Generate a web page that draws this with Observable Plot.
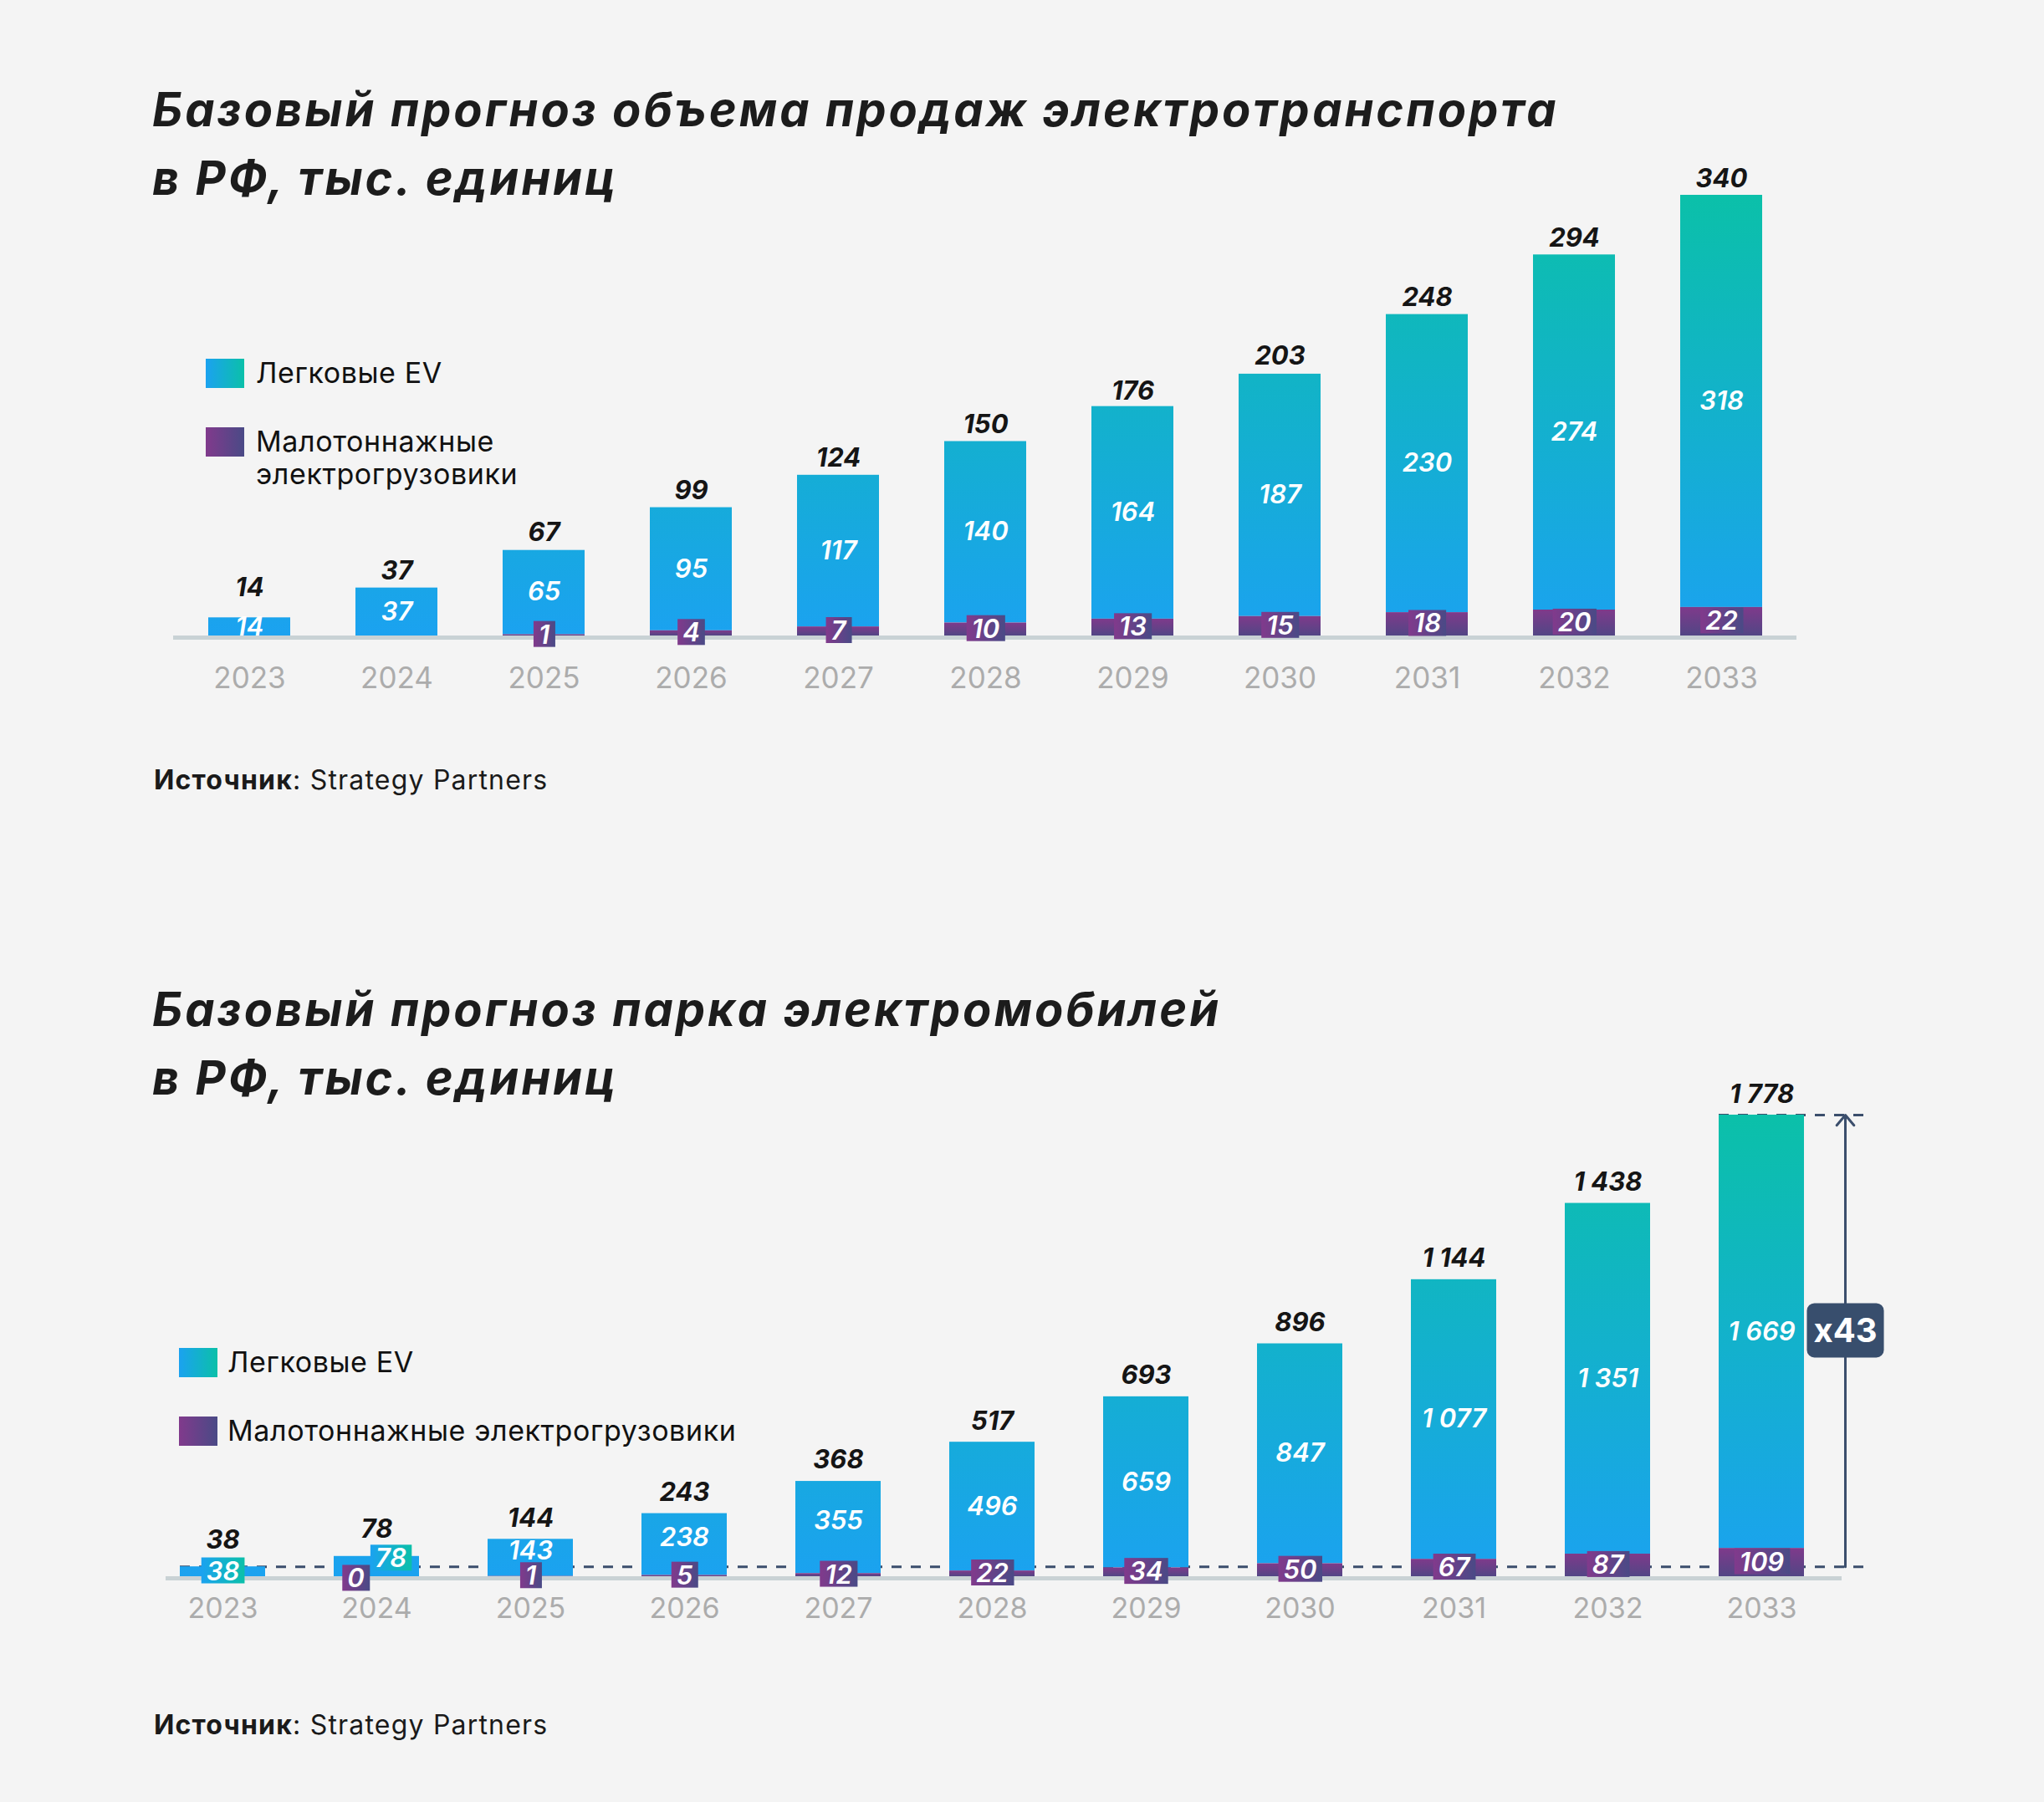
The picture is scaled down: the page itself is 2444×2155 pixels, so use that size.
<!DOCTYPE html>
<html>
<head>
<meta charset="utf-8">
<script src="https://cdn.jsdelivr.net/npm/d3@7"></script>
<script src="https://cdn.jsdelivr.net/npm/@observablehq/plot@0.6"></script>
<style>
  html, body { margin: 0; padding: 0; background: #f4f4f4; }
  #page { position: relative; width: 2444px; height: 2155px; background: #f4f4f4; overflow: hidden;
          font-family: Inter, "Noto Sans", "DejaVu Sans", sans-serif; color: #1a1a1a; }
  .abs { position: absolute; white-space: nowrap; line-height: 1; }
  .chart { position: absolute; left: 0; }
  .swatch { position: absolute; width: 46px; height: 35px; }
</style>
</head>
<body>
<div id="page"></div>
<script>
// ---------------- DATA ----------------
const years = ["2023", "2024", "2025", "2026", "2027", "2028", "2029", "2030", "2031", "2032", "2033"];

// Chart 1: sales forecast, thousand units
const salesTitle = ["Базовый прогноз объема продаж электротранспорта", "в РФ, тыс. единиц"];
const salesEV = [14, 37, 65, 95, 117, 140, 164, 187, 230, 274, 318];
const salesTrucks = [null, null, 1, 4, 7, 10, 13, 15, 18, 20, 22];
const salesTotals = [14, 37, 67, 99, 124, 150, 176, 203, 248, 294, 340];

// Chart 2: fleet forecast, thousand units
const fleetTitle = ["Базовый прогноз парка электромобилей", "в РФ, тыс. единиц"];
const fleetEV = [38, 78, 143, 238, 355, 496, 659, 847, 1077, 1351, 1669];
const fleetTrucks = [null, 0, 1, 5, 12, 22, 34, 50, 67, 87, 109];
const fleetTotals = [38, 78, 144, 243, 368, 517, 693, 896, 1144, 1438, 1778];
const fleetGrowthLabel = "x43";

const seriesNames = ["Легковые EV", "Малотоннажные электрогрузовики"];
const sourceLabel = "Источник";
const sourceName = "Strategy Partners";

// ---------------- STYLE ----------------
const FONT = 'Inter, "Noto Sans", "DejaVu Sans", sans-serif';
const C = {
  evBottom: "#1ba2f0", evTop: "#0bc0a9",
  truckTop: "#7f3a8b", truckBottom: "#524685",
  boxLeft: "#813a8c", boxRight: "#4a4a86",
  axis: "#c9d2d5", year: "#acacac", ink: "#151515", annot: "#3b4e6c"
};
const ru = d3.formatLocale({decimal: ",", thousands: "\u00a0", grouping: [3], currency: ["", ""]});
const fmt = ru.format(",d");

const page = document.getElementById("page");
const NS = "http://www.w3.org/2000/svg";
function svgEl(tag, attrs) {
  const e = document.createElementNS(NS, tag);
  for (const k in attrs) e.setAttribute(k, attrs[k]);
  return e;
}
function linGrad(id, attrs, stops) {
  const g = svgEl("linearGradient", Object.assign({id}, attrs));
  stops.forEach(([o, c]) => g.appendChild(svgEl("stop", {offset: o, "stop-color": c})));
  return g;
}
function addText(html, left, baseline, fs, css = {}) {
  const el = document.createElement("div");
  el.className = "abs";
  el.innerHTML = html;
  el.style.left = left + "px";
  el.style.top = (baseline - 0.864 * fs) + "px";
  el.style.fontSize = fs + "px";
  Object.assign(el.style, css);
  page.appendChild(el);
  return el;
}
function addSwatch(left, top, from, to) {
  const s = document.createElement("div");
  s.className = "swatch";
  s.style.left = left + "px";
  s.style.top = top + "px";
  s.style.background = `linear-gradient(to right, ${from}, ${to})`;
  page.appendChild(s);
}
function addBoxes(svg, tag, fill, padX, h, rx) {
  svg.querySelectorAll(`g[aria-description="${tag}"] text`).forEach(t => {
    const b = t.getBBox();
    const r = svgEl("rect", {
      x: b.x - padX, y: b.y + b.height / 2 - h / 2,
      width: b.width + 2 * padX, height: h, fill, rx
    });
    const tr = t.getAttribute("transform");
    if (tr) r.setAttribute("transform", tr);
    t.parentNode.insertBefore(r, t);
  });
}

function buildChart(cfg, sfx) {
  const rows = years.map((year, i) => ({year, ev: cfg.ev[i], truck: cfg.trucks[i], total: cfg.totals[i]}));
  const maxT = d3.max(cfg.totals);
  const plotH = cfg.height - cfg.marginTop - cfg.marginBottom;
  const k = plotH / maxT; // px per unit
  const base = d => d.truck ?? 0;
  const lift = d => (d.ev * k < 36 ? cfg.smallLift : 0);
  const boxed = d => d.ev < cfg.evBoxBelow;
  const shortSeg = d => d.ev * k < 120;
  const n = years.length;
  const plotW = 2444 - cfg.marginLeft - cfg.marginRight;
  const step = plotW / (n - cfg.pi + 2 * cfg.po);
  const halfBand = step * (1 - cfg.pi) / 2;
  const last = years[n - 1];

  const textBase = {fontFamily: FONT, fontStyle: "italic"};
  const evText = {x: "year", y: d => base(d) + d.ev / 2, text: d => fmt(d.ev),
    fontSize: cfg.labelFs, fontWeight: 600, fill: "white", ...textBase};
  const marks = [];

  if (cfg.annotate) {
    const dash = {stroke: C.annot, strokeWidth: 3, strokeDasharray: "12,11"};
    marks.push(Plot.ruleY([cfg.totals[0]], {x1: () => years[0], x2: () => last, insetRight: -(130 - halfBand), ...dash}));
    marks.push(Plot.ruleY([maxT], {x1: () => last, x2: () => last, insetRight: -(130 - halfBand), ...dash}));
  }

  marks.push(
    Plot.barY(rows, {x: "year", y1: base, y2: d => base(d) + d.ev, fill: `url(#ev${sfx})`}),
    Plot.barY(rows.filter(d => d.truck > 0), {x: "year", y1: 0, y2: "truck", fill: `url(#truck${sfx})`}),
    Plot.ruleY([0], {stroke: C.axis, strokeWidth: 5, dy: 2}),
    // totals
    Plot.text(rows, {x: "year", y: d => d.total + lift(d) / k, text: d => fmt(d.total),
      dy: -cfg.totalGap - 0.32 * cfg.totalFs, fontSize: cfg.totalFs, fontWeight: 700, fill: C.ink, ...textBase}),
    // EV labels (inside bars)
    Plot.text(rows.filter(d => !boxed(d) && !shortSeg(d)), evText),
    Plot.text(rows.filter(d => !boxed(d) && shortSeg(d)), {...evText, dy: cfg.shortShift}),
    // EV labels with box (small bars)
    Plot.text(rows.filter(d => boxed(d) && d.truck !== 0), {...evText, ariaDescription: "ev-box"}),
    Plot.text(rows.filter(d => boxed(d) && d.truck === 0), {...evText, dx: 17, dy: -9, ariaDescription: "ev-box"}),
    // truck labels with box
    Plot.text(rows.filter(d => d.truck != null && d.truck > 0), {x: "year", y: d => d.truck / 2, text: d => fmt(d.truck),
      fontSize: cfg.labelFs, fontWeight: 600, fill: "white", ariaDescription: "truck-box", ...textBase}),
    Plot.text(rows.filter(d => d.truck === 0), {x: "year", y: 0, text: d => fmt(d.truck),
      dx: -25, dy: 3, fontSize: cfg.labelFs, fontWeight: 600, fill: "white", ariaDescription: "truck-box", ...textBase}),
    // year labels
    Plot.text(rows, {x: "year", y: 0, text: "year", dy: cfg.yearBase - 0.32 * cfg.yearFs,
      fontSize: cfg.yearFs, fontWeight: 400, fill: C.year, fontFamily: FONT})
  );

  if (cfg.annotate) {
    marks.push(
      Plot.arrow([0], {x1: () => last, x2: () => last, y1: () => cfg.totals[0], y2: () => maxT, dx: 100,
        stroke: C.annot, strokeWidth: 3, headAngle: 80, headLength: 8}),
      Plot.text([fleetGrowthLabel], {x: () => last, y: () => (cfg.totals[0] + maxT) / 2, text: d => d,
        dx: 100, dy: -11, fontSize: 40, fontWeight: 700, fill: "white", fontFamily: FONT, ariaDescription: "growth"})
    );
  }

  const svg = Plot.plot({
    width: 2444, height: cfg.height,
    marginLeft: cfg.marginLeft, marginRight: cfg.marginRight,
    marginTop: cfg.marginTop, marginBottom: cfg.marginBottom,
    style: {background: "transparent", fontFamily: FONT, overflow: "visible"},
    x: {domain: years, paddingInner: cfg.pi, paddingOuter: cfg.po, align: cfg.align, axis: null},
    y: {domain: [0, maxT], axis: null},
    marks
  });
  svg.classList.add("chart");
  svg.style.top = cfg.top + "px";
  page.appendChild(svg);

  const y0 = cfg.height - cfg.marginBottom, yTop = cfg.marginTop;
  const defs = svgEl("defs", {});
  defs.appendChild(linGrad(`ev${sfx}`, {gradientUnits: "userSpaceOnUse", x1: 0, x2: 0, y1: y0, y2: yTop},
    [["0", C.evBottom], ["1", C.evTop]]));
  defs.appendChild(linGrad(`truck${sfx}`, {x1: 0, x2: 0, y1: 0, y2: 1},
    [["0", C.truckTop], ["1", C.truckBottom]]));
  defs.appendChild(linGrad(`boxP${sfx}`, {x1: 0, x2: 1, y1: 0, y2: 0},
    [["0", C.boxLeft], ["1", C.boxRight]]));
  defs.appendChild(linGrad(`boxE${sfx}`, {x1: 0, x2: 1, y1: 0, y2: 0},
    [["0", C.evBottom], ["1", C.evTop]]));
  svg.insertBefore(defs, svg.firstChild);

  addBoxes(svg, "truck-box", `url(#boxP${sfx})`, 6, cfg.boxH, 0);
  addBoxes(svg, "ev-box", `url(#boxE${sfx})`, 6, cfg.boxH, 0);
  addBoxes(svg, "growth", "#384e6d", 8, 65, 9);
  return svg;
}

const titleCss = {fontWeight: 700, fontStyle: "italic", letterSpacing: "3px", color: "#1c1c1c"};
const legendCss = {color: "#111", letterSpacing: "0.6px"};
const sourceCss = {color: "#1a1a1a", letterSpacing: "1.2px"};

// ---------------- CHART 1 ----------------
addText(salesTitle[0], 182, 151, 56, titleCss);
addText(salesTitle[1], 182, 233, 56, titleCss);
addSwatch(246, 429, C.evBottom, C.evTop);
addText(seriesNames[0], 306, 458, 34, legendCss);
addSwatch(246, 511, C.boxLeft, C.boxRight);
const legendWords = seriesNames[1].split(" ");
addText(legendWords[0], 306, 540, 34, legendCss);
addText(legendWords[1], 306, 579, 34, legendCss);
addText(`<b>${sourceLabel}</b>: ${sourceName}`, 184, 945, 32, sourceCss);

buildChart({
  ev: salesEV, trucks: salesTrucks, totals: salesTotals,
  top: 180, height: 700, marginLeft: 207, marginRight: 296, marginTop: 53, marginBottom: 120,
  pi: 0.445, po: 0.221, align: 0.5,
  yearFs: 35, yearBase: 62, totalGap: 10, totalFs: 31, labelFs: 31, boxH: 31, smallLift: 16, shortShift: 0,
  evBoxBelow: 0, annotate: false
}, "1");

// ---------------- CHART 2 ----------------
addText(fleetTitle[0], 182, 1227, 56, titleCss);
addText(fleetTitle[1], 182, 1309, 56, titleCss);
addSwatch(214, 1612, C.evBottom, C.evTop);
addText(seriesNames[0], 272, 1641, 34, legendCss);
addSwatch(214, 1694, C.boxLeft, C.boxRight);
addText(seriesNames[1], 272, 1723, 34, legendCss);
addText(`<b>${sourceLabel}</b>: ${sourceName}`, 184, 2075, 32, sourceCss);

buildChart({
  ev: fleetEV, trucks: fleetTrucks, totals: fleetTotals,
  top: 1260, height: 720, marginLeft: 198, marginRight: 242, marginTop: 73, marginBottom: 95,
  pi: 0.447, po: 0.1545, align: 0.28,
  yearFs: 34, yearBase: 49, totalGap: 15, totalFs: 31, labelFs: 31, boxH: 31, smallLift: 7, shortShift: -8,
  evBoxBelow: 100, annotate: true
}, "2");
</script>
</body>
</html>
